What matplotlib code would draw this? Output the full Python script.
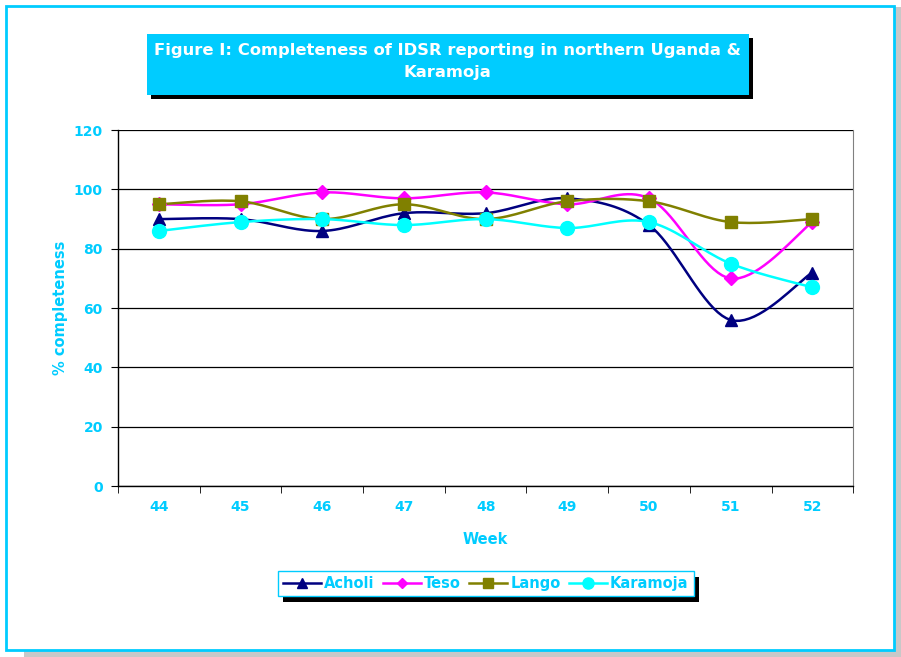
import numpy as np
import matplotlib.pyplot as plt
from matplotlib.patches import Rectangle

weeks = [44, 45, 46, 47, 48, 49, 50, 51, 52]
acholi = [90, 90, 86, 92, 92, 97, 88, 56, 72]
teso = [95, 95, 99, 97, 99, 95, 97, 70, 89]
lango = [95, 96, 90, 95, 90, 96, 96, 89, 90]
karamoja = [86, 89, 90, 88, 90, 87, 89, 75, 67]

series = [
    ("Acholi", acholi, "#000080", "^", 9),
    ("Teso", teso, "#FF00FF", "D", 7),
    ("Lango", lango, "#808000", "s", 9),
    ("Karamoja", karamoja, "#00FFFF", "o", 10),
]

TXT = "#00CCFF"
FONT = "DejaVu Sans"


def smooth(x, y, n=20):
    # excel-like smoothed line (catmull-rom through the points)
    x = np.asarray(x, float)
    y = np.asarray(y, float)
    px = np.concatenate([[x[0]], x, [x[-1]]])
    py = np.concatenate([[y[0]], y, [y[-1]]])
    xs, ys = [], []
    for i in range(1, len(px) - 2):
        p0, p1, p2, p3 = [np.array([px[j], py[j]]) for j in (i - 1, i, i + 1, i + 2)]
        c1 = p1 + (p2 - p0) / 6
        c2 = p2 - (p3 - p1) / 6
        t = np.linspace(0, 1, n)[:, None]
        b = (1 - t) ** 3 * p1 + 3 * (1 - t) ** 2 * t * c1 + 3 * (1 - t) * t ** 2 * c2 + t ** 3 * p2
        xs.extend(b[:, 0])
        ys.extend(b[:, 1])
    return np.array(xs), np.array(ys)


fig = plt.figure(figsize=(9.01, 6.57), dpi=100)

# outer frame with shadow
fig.patches.append(Rectangle((0.027, 0.0), 0.973, 0.99, transform=fig.transFigure,
                             facecolor="#C8C8C8", edgecolor="none", zorder=-3))
fig.patches.append(Rectangle((0.007, 0.011), 0.985, 0.98, transform=fig.transFigure,
                             facecolor="white", edgecolor=TXT, linewidth=2, zorder=-2))

ax = fig.add_axes([0.131, 0.260, 0.816, 0.542])
ax.set_zorder(5)
ax.patch.set_alpha(0)
xpos = np.arange(len(weeks))
for name, vals, col, mk, ms in series:
    sx, sy = smooth(xpos, vals)
    ax.plot(sx, sy, color=col, linewidth=1.8, zorder=3)
    ax.plot(xpos, vals, linestyle="none", marker=mk, markersize=ms, color=col, zorder=4)

ax.set_xlim(-0.5, len(weeks) - 0.5)
ax.set_ylim(0, 120)
ax.set_yticks(range(0, 121, 20))
ax.set_xticks(xpos)
ax.set_xticklabels([str(w) for w in weeks])
ax.set_xticks(np.arange(-0.5, len(weeks), 1), minor=True)
ax.tick_params(axis="x", which="major", length=0, pad=10)
ax.tick_params(axis="x", which="minor", length=5, direction="out")
ax.tick_params(axis="y", length=5, direction="out", pad=6)
for lab in ax.get_xticklabels() + ax.get_yticklabels():
    lab.set_color(TXT)
    lab.set_fontweight("bold")
    lab.set_fontsize(10)
    lab.set_family(FONT)
ax.grid(axis="y", color="black", linewidth=0.9)
ax.set_axisbelow(True)
ax.spines["top"].set_visible(False)
ax.spines["right"].set_color("#808080")
ax.spines["left"].set_linewidth(1.0)
ax.spines["bottom"].set_linewidth(1.0)
ax.set_xlabel("Week", color=TXT, fontweight="bold", fontsize=10.5, family=FONT, labelpad=13)
ax.set_ylabel("% completeness", color=TXT, fontweight="bold", fontsize=10.5, family=FONT, labelpad=4)

# title box
fig.patches.append(Rectangle((0.168, 0.849), 0.668, 0.0925, transform=fig.transFigure,
                             facecolor="black", edgecolor="none", zorder=2))
fig.patches.append(Rectangle((0.163, 0.856), 0.668, 0.0925, transform=fig.transFigure,
                             facecolor="#00CCFF", edgecolor="none", zorder=3))
fig.text(0.497, 0.906, "Figure I: Completeness of IDSR reporting in northern Uganda &\nKaramoja",
         ha="center", va="center", color="white", fontweight="bold", fontsize=11.8,
         family=FONT, linespacing=1.55, zorder=4)

# legend
handles = []
for name, vals, col, mk, ms in series:
    h, = ax.plot([], [], color=col, marker=mk, markersize=ms * 0.8, linewidth=1.8, label=name)
    handles.append(h)
leg = fig.legend(handles=handles, loc="center", bbox_to_anchor=(0.539, 0.112), ncol=4,
                 frameon=True, fancybox=False, shadow=False, handlelength=2.6,
                 handletextpad=0.2, columnspacing=0.6, borderpad=0.35, framealpha=1,
                 prop={"family": FONT, "weight": "bold", "size": 10.5})
leg.get_frame().set_edgecolor(TXT)
leg.get_frame().set_linewidth(1.0)
leg.set_zorder(6)
for t in leg.get_texts():
    t.set_color(TXT)

fig.canvas.draw()
bb = leg.get_window_extent().transformed(fig.transFigure.inverted())
fig.patches.append(Rectangle((bb.x0 + 0.006, bb.y0 - 0.009), bb.width, bb.height,
                             transform=fig.transFigure, facecolor="black",
                             edgecolor="none", zorder=2))

fig.savefig("out.png", dpi=100)
